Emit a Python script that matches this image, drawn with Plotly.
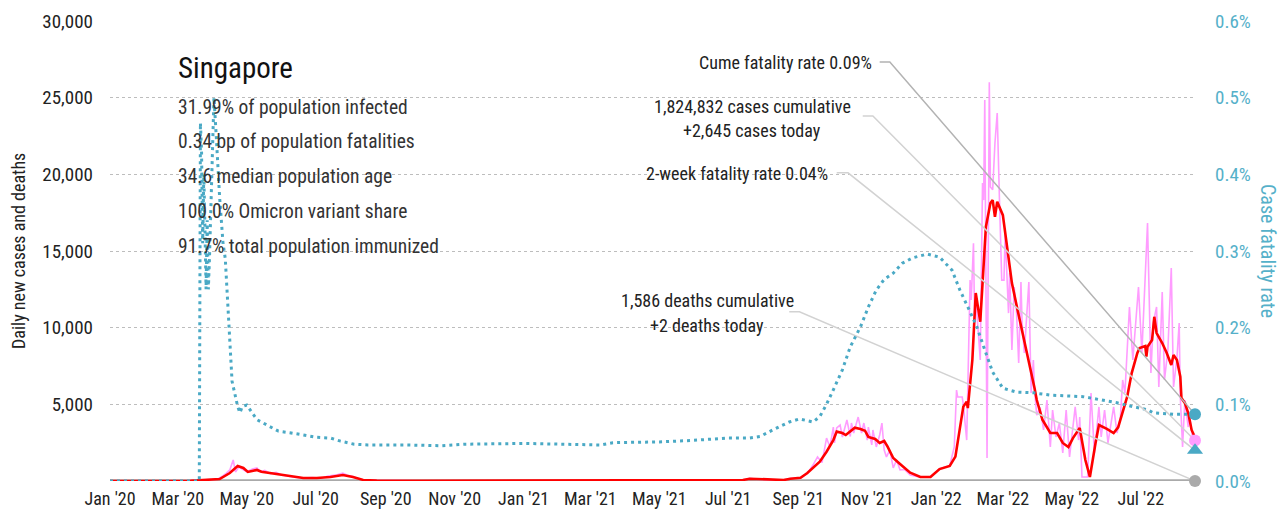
import plotly.graph_objects as go

# ---------------- data ----------------
# Daily new cases (raw reported series)
daily_dates = [
    "2020-01-01", "2020-03-12", "2020-04-05", "2020-04-09", "2020-04-13", "2020-04-16",
    "2020-04-19", "2020-04-21", "2020-04-24", "2020-04-28", "2020-05-01", "2020-05-06",
    "2020-05-10", "2020-05-13", "2020-05-17", "2020-05-22", "2020-05-27", "2020-06-01",
    "2020-06-07", "2020-06-12", "2020-06-20", "2020-06-28", "2020-07-06", "2020-07-12",
    "2020-07-20", "2020-07-25", "2020-07-29", "2020-08-03", "2020-08-08", "2020-08-12",
    "2020-08-24", "2020-10-01", "2021-01-01", "2021-05-01", "2021-06-06", "2021-07-14",
    "2021-07-20", "2021-07-25", "2021-08-04", "2021-08-19", "2021-08-25", "2021-09-03",
    "2021-09-09", "2021-09-14", "2021-09-18", "2021-09-22", "2021-09-26", "2021-09-29",
    "2021-10-02", "2021-10-03", "2021-10-05", "2021-10-08", "2021-10-10", "2021-10-14",
    "2021-10-17", "2021-10-18", "2021-10-20", "2021-10-22", "2021-10-24", "2021-10-27",
    "2021-10-29", "2021-11-01", "2021-11-02", "2021-11-05", "2021-11-06", "2021-11-09",
    "2021-11-12", "2021-11-14", "2021-11-16", "2021-11-18", "2021-11-21", "2021-11-24",
    "2021-11-27", "2021-11-30", "2021-12-04", "2021-12-09", "2021-12-18", "2021-12-27",
    "2022-01-04", "2022-01-13", "2022-01-17", "2022-01-19", "2022-01-20", "2022-01-24",
    "2022-01-25", "2022-01-28", "2022-01-31", "2022-02-01", "2022-02-03", "2022-02-04",
    "2022-02-05", "2022-02-09", "2022-02-11", "2022-02-12", "2022-02-13", "2022-02-15",
    "2022-02-17", "2022-02-18", "2022-02-20", "2022-02-22", "2022-02-24", "2022-02-26",
    "2022-02-28", "2022-03-02", "2022-03-03", "2022-03-06", "2022-03-07", "2022-03-09",
    "2022-03-11", "2022-03-13", "2022-03-15", "2022-03-17", "2022-03-18", "2022-03-20",
    "2022-03-24", "2022-03-26", "2022-03-28", "2022-03-29", "2022-03-31", "2022-04-03",
    "2022-04-06", "2022-04-09", "2022-04-12", "2022-04-14", "2022-04-17", "2022-04-20",
    "2022-04-23", "2022-04-26", "2022-04-29", "2022-05-04", "2022-05-07", "2022-05-08",
    "2022-05-10", "2022-05-15", "2022-05-18", "2022-05-21", "2022-05-25", "2022-05-27",
    "2022-05-30", "2022-06-02", "2022-06-07", "2022-06-10", "2022-06-13", "2022-06-15",
    "2022-06-17", "2022-06-21", "2022-06-24", "2022-06-29", "2022-07-02", "2022-07-07",
    "2022-07-10", "2022-07-12", "2022-07-15", "2022-07-17", "2022-07-20", "2022-07-22",
    "2022-07-25", "2022-07-28", "2022-07-30", "2022-08-02", "2022-08-04", "2022-08-05",
    "2022-08-07", "2022-08-09", "2022-08-12", "2022-08-13", "2022-08-16", "2022-08-18",
]
daily_cases = [
    0, 15, 120, 290, 520, 720,
    1370, 590, 910, 720, 600, 780,
    850, 600, 700, 480, 560, 400,
    300, 250, 200, 220, 180, 320,
    400, 520, 380, 300, 150, 70,
    40, 10, 20, 20, 20, 60,
    180, 120, 90, 60, 180, 200,
    500, 1040, 1570, 1200, 2800, 2220,
    3520, 2480, 3460, 3650, 2870, 3980,
    2900, 3780, 3130, 3700, 4170, 3130,
    3780, 2670, 3520, 2350, 3330, 2220,
    3000, 3780, 2020, 1570, 2020, 850,
    1370, 720, 750, 390, 250, 280,
    800, 1000, 2220, 5930, 5480, 5480,
    5000, 2670, 13100, 11800, 15500, 10500,
    12000, 7890, 19430, 18320, 24840, 1500,
    26000, 19170, 19000, 22040, 24000, 18320,
    13100, 13100, 16170, 10950, 13560, 8540,
    12650, 11150, 7690, 12980, 10300, 8350,
    12980, 5740, 7890, 5930, 4300, 4800,
    3330, 5280, 2220, 4630, 2870, 3780,
    1830, 4630, 1570, 4830, 2670, 4170,
    260, 260, 5740, 1830, 4830, 2870,
    4630, 2480, 4830, 3130, 4170, 6590,
    5740, 11350, 7890, 12650, 8350, 16820,
    7040, 10300, 11350, 6130, 12320, 6590,
    8540, 13890, 6130, 8000, 10300, 5480,
    2220, 5280, 3520, 4430, 2670, 2645,
]

# 7-day average of new cases
avg_dates = [
    "2020-01-01", "2020-03-12", "2020-04-07", "2020-04-16", "2020-04-23", "2020-04-28",
    "2020-05-02", "2020-05-10", "2020-05-14", "2020-05-21", "2020-05-30", "2020-06-08",
    "2020-06-20", "2020-07-02", "2020-07-14", "2020-07-25", "2020-08-03", "2020-08-12",
    "2020-08-24", "2020-10-01", "2021-01-01", "2021-05-01", "2021-06-06", "2021-07-14",
    "2021-07-20", "2021-08-04", "2021-08-19", "2021-08-25", "2021-09-03", "2021-09-09",
    "2021-09-14", "2021-09-20", "2021-09-26", "2021-10-02", "2021-10-05", "2021-10-10",
    "2021-10-13", "2021-10-17", "2021-10-21", "2021-10-26", "2021-10-30", "2021-11-02",
    "2021-11-08", "2021-11-12", "2021-11-16", "2021-11-19", "2021-11-24", "2021-11-30",
    "2021-12-09", "2021-12-18", "2021-12-27", "2022-01-04", "2022-01-13", "2022-01-18",
    "2022-01-20", "2022-01-25", "2022-01-28", "2022-01-29", "2022-02-02", "2022-02-05",
    "2022-02-09", "2022-02-14", "2022-02-18", "2022-02-20", "2022-02-22", "2022-02-24",
    "2022-03-01", "2022-03-05", "2022-03-09", "2022-03-14", "2022-03-22", "2022-03-29",
    "2022-03-31", "2022-04-05", "2022-04-12", "2022-04-18", "2022-04-23", "2022-04-28",
    "2022-05-02", "2022-05-08", "2022-05-13", "2022-05-17", "2022-05-22", "2022-05-25",
    "2022-06-01", "2022-06-07", "2022-06-11", "2022-06-15", "2022-06-19", "2022-06-23",
    "2022-06-28", "2022-06-30", "2022-07-05", "2022-07-06", "2022-07-07", "2022-07-11",
    "2022-07-13", "2022-07-15", "2022-07-20", "2022-07-24", "2022-07-28", "2022-07-30",
    "2022-08-02", "2022-08-05", "2022-08-06", "2022-08-09", "2022-08-12", "2022-08-15",
    "2022-08-18",
]
avg_cases = [
    0, 10, 130, 520, 980, 850,
    590, 720, 600, 520, 460, 330,
    200, 200, 260, 390, 260, 70,
    30, 10, 20, 20, 20, 65,
    150, 85, 65, 150, 215, 520,
    850, 1260, 1910, 2670, 3220, 3130,
    3000, 3220, 3480, 3390, 3280, 2870,
    2740, 2480, 2610, 2240, 1500, 1110,
    540, 260, 260, 780, 980, 1590,
    2480, 4850, 5170, 4760, 7890, 12260,
    10390, 16580, 18130, 18320, 17230, 18210,
    17340, 15060, 12910, 11150, 8540, 6060,
    5280, 4000, 3130, 3130, 2480, 2220,
    2800, 3460, 1370, 260, 2480, 3650,
    3400, 3130, 3500, 4430, 5500, 7040,
    8350, 8670, 8800, 8110, 8760, 9190,
    10710, 9650, 9000, 8350, 7560, 8220,
    7890, 6800, 5410, 5090, 4430, 3330,
    2850,
]

# Daily new deaths
death_dates = ["2020-01-01", "2020-04-20", "2020-06-01", "2021-10-01", "2021-11-01",
               "2021-12-01", "2022-01-01", "2022-03-01", "2022-05-01", "2022-07-20",
               "2022-08-18"]
daily_deaths = [0, 1, 0, 8, 14, 12, 3, 9, 2, 5, 2]

# Cumulative case fatality rate, percent
cfr_dates = [
    "2020-01-01", "2020-03-20", "2020-03-21", "2020-03-22", "2020-03-23", "2020-03-24",
    "2020-03-25", "2020-03-26", "2020-03-27", "2020-03-28", "2020-03-29", "2020-04-02",
    "2020-04-04", "2020-04-07", "2020-04-10", "2020-04-12", "2020-04-15", "2020-04-18",
    "2020-04-23", "2020-04-25", "2020-04-27", "2020-05-01", "2020-05-10", "2020-05-20",
    "2020-05-29", "2020-06-08", "2020-06-20", "2020-07-02", "2020-07-14", "2020-07-23",
    "2020-08-04", "2020-08-16", "2020-09-05", "2020-09-20", "2020-10-20", "2020-11-10",
    "2021-01-01", "2021-03-10", "2021-03-21", "2021-05-01", "2021-05-31", "2021-06-30",
    "2021-07-20", "2021-07-29", "2021-08-10", "2021-08-24", "2021-09-02", "2021-09-14",
    "2021-09-20", "2021-09-26", "2021-10-02", "2021-10-10", "2021-10-17", "2021-10-26",
    "2021-11-02", "2021-11-09", "2021-11-16", "2021-11-24", "2021-12-02", "2021-12-11",
    "2021-12-24", "2022-01-04", "2022-01-15", "2022-01-22", "2022-01-29", "2022-02-06",
    "2022-02-13", "2022-02-20", "2022-03-01", "2022-03-13", "2022-03-28", "2022-04-12",
    "2022-04-27", "2022-05-11", "2022-05-26", "2022-06-10", "2022-06-24", "2022-07-07",
    "2022-07-12", "2022-07-30", "2022-08-18",
]
cfr_pct = [
    0, 0, 0.467, 0.43, 0.31, 0.40,
    0.33, 0.25, 0.34, 0.25, 0.29, 0.50,
    0.45, 0.37, 0.31, 0.29, 0.21, 0.13,
    0.097, 0.089, 0.097, 0.099, 0.080, 0.072,
    0.065, 0.063, 0.060, 0.057, 0.056, 0.052,
    0.048, 0.047, 0.047, 0.047, 0.046, 0.048,
    0.049, 0.047, 0.050, 0.051, 0.053, 0.056,
    0.056, 0.058, 0.067, 0.077, 0.081, 0.077,
    0.084, 0.100, 0.119, 0.145, 0.175, 0.201,
    0.227, 0.249, 0.263, 0.271, 0.284, 0.291,
    0.296, 0.292, 0.275, 0.249, 0.227, 0.201,
    0.171, 0.142, 0.121, 0.116, 0.115, 0.112,
    0.111, 0.110, 0.106, 0.102, 0.097, 0.093,
    0.089, 0.087, 0.087,
]

two_week_cfr_pct = 0.04

stats_lines = [
    "31.99% of population infected",
    "0.34 bp of population fatalities",
    "34.6 median population age",
    "100.0% Omicron variant share",
    "91.7% total population immunized",
]

cases_cumulative = 1824832
deaths_cumulative = 1586
cume_cfr_label = 0.09

# ---------------- style ----------------
FONT = "Roboto Condensed, Liberation Sans Narrow, Roboto, sans-serif"
TEAL = "#4aa9c5"
TEAL_TXT = "#55b0c9"
PINK = "#ff9cff"
RED = "#ff0000"
GREY = "#aaaaaa"
TXT = "#222222"

last_date = daily_dates[-1]

fig = go.Figure()

# deaths underneath, then raw cases, average, and the fatality rate on top
fig.add_trace(go.Scatter(x=death_dates, y=daily_deaths, mode="lines", cliponaxis=False,
                         line=dict(color=GREY, width=3.5), hoverinfo="skip"))
fig.add_trace(go.Scatter(x=daily_dates, y=daily_cases, mode="lines",
                         line=dict(color=PINK, width=1.6), hoverinfo="skip"))
fig.add_trace(go.Scatter(x=avg_dates, y=avg_cases, mode="lines",
                         line=dict(color=RED, width=2.6), hoverinfo="skip"))
fig.add_trace(go.Scatter(x=cfr_dates, y=cfr_pct, mode="lines", yaxis="y2",
                         line=dict(color=TEAL, width=3, dash="3px,4px"), hoverinfo="skip"))

# leader lines from the labels to the end-of-series markers
leader_light = "#d2d2d2"
leader_dark = "#b3b3b3"
fig.add_trace(go.Scatter(x=["2021-11-12", "2021-11-21", last_date],
                         y=[0.5465, 0.5465, cfr_pct[-1]], yaxis="y2", mode="lines",
                         line=dict(color=leader_dark, width=1.5), hoverinfo="skip"))
fig.add_trace(go.Scatter(x=["2021-10-28", "2021-11-06", last_date],
                         y=[23800, 23800, daily_cases[-1]], mode="lines",
                         line=dict(color=leader_light, width=1.5), hoverinfo="skip"))
fig.add_trace(go.Scatter(x=["2021-10-05", "2021-10-15", last_date],
                         y=[0.402, 0.402, two_week_cfr_pct], yaxis="y2", mode="lines",
                         line=dict(color=leader_light, width=1.5), hoverinfo="skip"))
fig.add_trace(go.Scatter(x=["2021-08-24", "2021-09-02", last_date],
                         y=[11040, 11040, daily_deaths[-1]], mode="lines",
                         line=dict(color=leader_light, width=1.5), hoverinfo="skip"))

# end-of-series markers
fig.add_trace(go.Scatter(x=[last_date], y=[daily_deaths[-1]], mode="markers",
                         cliponaxis=False,
                         marker=dict(color=GREY, size=12), hoverinfo="skip"))
fig.add_trace(go.Scatter(x=[last_date], y=[daily_cases[-1]], mode="markers",
                         cliponaxis=False,
                         marker=dict(color=PINK, size=12), hoverinfo="skip"))
fig.add_trace(go.Scatter(x=[last_date], y=[cfr_pct[-1]], yaxis="y2", mode="markers",
                         cliponaxis=False,
                         marker=dict(color=TEAL, size=12), hoverinfo="skip"))
fig.add_trace(go.Scatter(x=[last_date], y=[two_week_cfr_pct], yaxis="y2", mode="markers",
                         cliponaxis=False,
                         marker=dict(color=TEAL, size=14, symbol="triangle-up"),
                         hoverinfo="skip"))

# ---------------- annotations ----------------
W0, W1, H0, H1 = 110, 1195, 21, 481


def px(xp, yp):
    return (xp - W0) / (W1 - W0), (H1 - yp) / (H1 - H0)


annotations = []


def label(text, xp, yp, size, color=TXT, anchor="left"):
    xx, yy = px(xp, yp)
    annotations.append(dict(text=text, x=xx, y=yy, xref="paper", yref="paper",
                            xanchor=anchor, yanchor="middle", showarrow=False,
                            font=dict(family=FONT, size=size, color=color)))


label("Singapore", 176, 68, 29, "#111111")
for i, line in enumerate(stats_lines):
    label(line, 176, 107 + i * 34.8, 19.5, "#333333")

label(f"Cume fatality rate {cume_cfr_label:.2f}%", 874, 62, 18, anchor="right")
label(f"{cases_cumulative:,} cases cumulative", 752, 106, 18, anchor="center")
label(f"+{daily_cases[-1]:,} cases today", 752, 130, 18, anchor="center")
label(f"2-week fatality rate {two_week_cfr_pct:.2f}%", 830, 173, 18, anchor="right")
label(f"{deaths_cumulative:,} deaths cumulative", 707, 300, 18, anchor="center")
label(f"+{daily_deaths[-1]} deaths today", 707, 325, 18, anchor="center")

annotations.append(dict(text="Daily new cases and deaths", x=-(W0 - 18) / (W1 - W0), y=0.5,
                        xref="paper", yref="paper", xanchor="center", yanchor="middle",
                        textangle=-90, showarrow=False,
                        font=dict(family=FONT, size=18, color=TXT)))
annotations.append(dict(text="Case fatality rate", x=1 + (1268 - W1) / (W1 - W0), y=0.5,
                        xref="paper", yref="paper", xanchor="center", yanchor="middle",
                        textangle=90, showarrow=False,
                        font=dict(family=FONT, size=20, color=TEAL_TXT)))

fig.update_layout(
    width=1284, height=520,
    margin=dict(l=W0, r=1284 - W1, t=H0, b=520 - H1, autoexpand=False),
    paper_bgcolor="white", plot_bgcolor="white",
    showlegend=False,
    font=dict(family=FONT, size=16, color=TXT),
    annotations=annotations,
    xaxis=dict(type="date", range=["2020-01-01", last_date], tick0="2020-01-01",
               dtick="M2", tickformat="%b '%y", showgrid=False, zeroline=False,
               showline=False, ticks="", ticklabelstandoff=5,
               tickfont=dict(family=FONT, size=18, color=TXT)),
    yaxis=dict(range=[0, 30000], tickformat=",", showgrid=True,
               gridcolor="#bdbdbd", griddash="dot", gridwidth=1, zeroline=False,
               showline=False, ticks="", ticklabelstandoff=16,
               tickvals=[5000, 10000, 15000, 20000, 25000, 30000],
               tickfont=dict(family=FONT, size=19, color=TXT)),
    yaxis2=dict(range=[0, 0.6], overlaying="y", side="right", dtick=0.1,
                tickformat=".1f", ticksuffix="%", showgrid=False, zeroline=False,
                showline=False, ticks="", ticklabelstandoff=19,
                tickfont=dict(family=FONT, size=19, color=TEAL_TXT)),
)

fig.write_html("out.html")
